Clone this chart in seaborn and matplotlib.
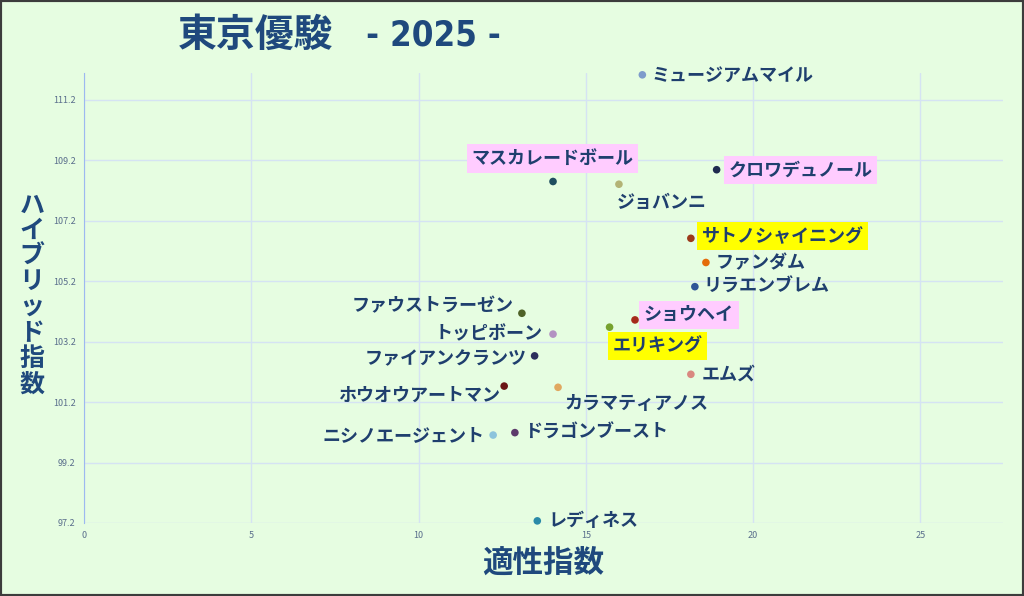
import matplotlib
matplotlib.use("Agg")
import matplotlib.pyplot as plt
import pandas as pd
import seaborn as sns
from matplotlib import font_manager
from matplotlib.patches import Rectangle

# data
horses = ['ミュージアムマイル', 'マスカレードボール', 'ジョバンニ', 'クロワデュノール',
          'サトノシャイニング', 'ファンダム', 'リラエンブレム', 'ショウヘイ', 'エリキング',
          'エムズ', 'ファウストラーゼン', 'トッピボーン', 'ファイアンクランツ',
          'ホウオウアートマン', 'カラマティアノス', 'ニシノエージェント', 'ドラゴンブースト',
          'レディネス']
tekisei = [16.69, 14.02, 15.99, 18.91, 18.14, 18.59, 18.26, 16.47, 15.71,
           18.14, 13.09, 14.02, 13.47, 12.56, 14.17, 12.23, 12.88, 13.55]
hybrid = [112.03, 108.50, 108.41, 108.89, 106.62, 105.82, 105.02, 103.92, 103.68,
          102.12, 104.14, 103.45, 102.73, 101.73, 101.69, 100.11, 100.19, 97.27]
y_ticks = [97.2, 99.2, 101.2, 103.2, 105.2, 107.2, 109.2, 111.2]
x_ticks = [0, 5, 10, 15, 20, 25]

# marker colours, label offsets (pixels) and highlight boxes
colors = ['#7E9CCB', '#1F4E5F', '#B3B376', '#1F2A4F', '#9C3A1A', '#E46C0A', '#2F5597',
          '#A52A1A', '#77A22F', '#D98880', '#4F6228', '#B392C2', '#2C2E5C', '#6B1515',
          '#E0A860', '#8CC4DC', '#5D3A6B', '#2A8AA8']
offsets = [(9, 0, 'left'), (-1, 23, 'center'), (-2, -18, 'left'), (12, 0, 'left'),
           (11, 2, 'left'), (10, 0, 'left'), (9, 0, 'left'), (9, 5, 'left'),
           (3, -19, 'left'), (11, 0, 'left'), (-8, 8, 'right'), (-11, 0, 'right'),
           (-8, -3, 'right'), (-4, -9, 'right'), (6, -16, 'left'), (-9, 0, 'right'),
           (9, 0, 'left'), (11, 0, 'left')]
highlight = {'マスカレードボール': '#FFCCFF', 'クロワデュノール': '#FFCCFF',
             'ショウヘイ': '#FFCCFF', 'サトノシャイニング': '#FFFF00',
             'エリキング': '#FFFF00'}

df = pd.DataFrame({'name': horses, 'x': tekisei, 'y': hybrid})

bg = '#E6FDE1'
navy = '#1F3F6E'
sns.set_style("white")
plt.rcParams['font.family'] = ['Noto Sans CJK JP', 'DejaVu Sans']

fig = plt.figure(figsize=(10.24, 5.96), dpi=100, facecolor=bg)
ax = fig.add_axes([0.082, 0.1225, 0.8975, 0.755])
ax.set_facecolor(bg)

sns.scatterplot(data=df, x='x', y='y', hue='name', palette=colors, legend=False,
                s=30, edgecolor='none', ax=ax, zorder=3, clip_on=False)

for name, x, y, (dx, dy, ha) in zip(horses, tekisei, hybrid, offsets):
    box = None
    if name in highlight:
        box = dict(boxstyle='square,pad=0.25', facecolor=highlight[name], edgecolor='none')
    ax.annotate(name, (x, y), xytext=(dx, dy), textcoords='offset pixels',
                ha=ha, va='center', fontsize=13, fontweight='bold', color=navy,
                bbox=box, zorder=4)

ax.set_xlim(0, 27.47)
ax.set_ylim(97.2, 112.09)
ax.set_xticks(x_ticks)
ax.set_yticks(y_ticks)
ax.set_yticklabels([f'{v:.1f}' for v in y_ticks])
ax.tick_params(length=0, labelsize=6.5, labelcolor='#5A6E8C', pad=6)
ax.grid(True, color='#D5E3F3', lw=1)
for side in ['top', 'right', 'bottom']:
    ax.spines[side].set_visible(False)
ax.spines['left'].set_color('#9DB9F0')
ax.set_xlabel('')
ax.set_ylabel('')

# axis titles
fig.text(543 / 1024, 1 - 563 / 596, '適性指数', ha='center', va='center',
         fontsize=22, fontweight='bold', color='#1F497D')
fig.text(32 / 1024, 1 - 295 / 596, '\n'.join('ハイブリッド指数'), ha='center', va='center',
         fontsize=18, fontweight='bold', color='#1F497D', linespacing=1.08)

# title; the year is set in a condensed face when one is installed
year_font = dict(family='DejaVu Sans', fontsize=22)
cond = font_manager.FontProperties(family='DejaVu Sans', stretch='condensed', weight='bold')
if 'Condensed' in font_manager.findfont(cond):
    year_font = dict(family='DejaVu Sans', stretch='condensed', fontsize=25)
fig.text(178 / 1024, 1 - 35 / 596, '東京優駿', ha='left', va='center',
         fontsize=28, fontweight='bold', color='#1F497D')
fig.text(366 / 1024, 1 - 35 / 596, '- 2025 -', ha='left', va='center',
         fontweight='bold', color='#1F497D', **year_font)

fig.patches.append(Rectangle((0, 0), 1, 1, transform=fig.transFigure, fill=False,
                             edgecolor='#3C3C3C', lw=3))

fig.savefig('out.png', dpi=100, facecolor=bg)
